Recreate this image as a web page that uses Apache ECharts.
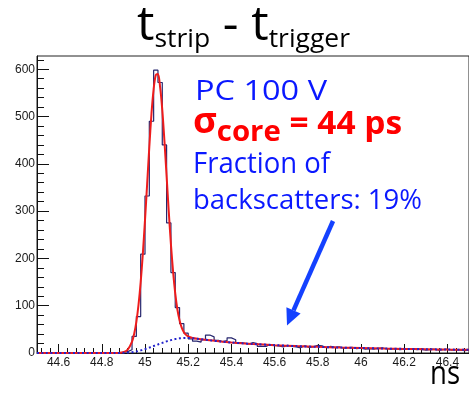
<!DOCTYPE html>
<html>
<head>
<meta charset="utf-8">
<script src="https://cdn.jsdelivr.net/npm/echarts@6/dist/echarts.min.js"></script>
<style>
  html, body { margin: 0; padding: 0; background: #fff; }
  #chart { width: 469px; height: 394px; }
</style>
</head>
<body>
<div id="chart"></div>
<script>
// Histogram of strip time minus trigger time (ns), 0.02 ns bins starting at 44.5
const binStart = 44.5;
const binWidth = 0.02;
const counts = [
  0, 0, 0, 0, 0, 0, 0, 0, 0, 0,
  0, 0, 0, 0, 0, 0, 0, 0, 0, 2,
  3, 7, 35, 77, 209, 332, 490, 598, 572, 440,
  275, 170, 96, 62, 42, 30, 25, 23, 28, 38,
  34, 27, 24, 26, 32, 28, 22, 21, 19, 22,
  20, 14, 14, 18, 16, 15, 13, 16, 14, 13,
  11, 15, 12, 13, 16, 15, 11, 14, 12, 13,
  10, 11, 12, 9, 10, 8, 9, 8, 10, 11,
  9, 8, 9, 7, 8, 9, 8, 7, 8, 6,
  7, 8, 6, 7, 8, 6, 7, 6, 5, 6
];

// Fit curves sampled along the time axis
const fitX = [
  44.50, 44.80, 44.86, 44.88, 44.90, 44.92, 44.94, 44.95, 44.96, 44.97,
  44.98, 44.99, 45.00, 45.01, 45.02, 45.03, 45.04, 45.05, 45.06, 45.07,
  45.08, 45.09, 45.10, 45.11, 45.12, 45.13, 45.14, 45.15, 45.16, 45.17,
  45.18, 45.19, 45.20, 45.22, 45.25, 45.30, 45.35, 45.40, 45.45, 45.50,
  45.60, 45.70, 45.80, 45.90, 46.00, 46.10, 46.20, 46.30, 46.40, 46.50
];
// core + backscatter
const fitTotal = [
  0, 0, 0, 0.4, 1.9, 7.3, 24, 41, 66, 102,
  150, 210, 281, 358, 436, 506, 558, 588, 590, 562,
  514, 448, 374, 299, 230, 172, 126, 92, 69, 53.5,
  44, 38.3, 35, 31.9, 29.8, 26.8, 24.3, 22.2, 20.5, 19,
  16.6, 14.6, 13, 11.6, 10.5, 9.5, 8.7, 8, 7.3, 6.7
];
// backscatter component alone
const fitBackscatter = [
  0, 0, 0, 0.1, 0.3, 0.8, 1.8, 2.5, 3.3, 4.3,
  5.5, 6.8, 8.2, 9.7, 11.3, 13, 14.7, 16.4, 18.1, 19.8,
  21.4, 23, 24.5, 25.9, 27.2, 28.4, 29.4, 30.3, 31, 31.5,
  31.8, 31.9, 31.8, 31.2, 29.8, 26.8, 24.3, 22.2, 20.5, 19,
  16.6, 14.6, 13, 11.6, 10.5, 9.5, 8.7, 8, 7.3, 6.7
];

const xRange = [44.5, 46.5];
const yRange = [0, 628];
const xMajorTicks = [44.6, 44.8, 45, 45.2, 45.4, 45.6, 45.8, 46, 46.2, 46.4];
const yMajorTicks = [0, 100, 200, 300, 400, 500, 600];

// minor ticks: 5 per major x division, 5 per major y division
const xMinorTicks = [];
for (let i = 1; i * 0.04 + 44.48 < xRange[1]; i++) {
  const v = +(44.48 + i * 0.04).toFixed(2);
  if (!xMajorTicks.some(m => Math.abs(m - v) < 1e-6)) xMinorTicks.push(v);
}
const yMinorTicks = [];
for (let v = 20; v < yRange[1]; v += 20) {
  if (v % 100 !== 0) yMinorTicks.push(v);
}

// step outline built from bin edges
const histData = counts.map((c, i) => [+(binStart + i * binWidth).toFixed(2), c]);
histData.push([+(binStart + counts.length * binWidth).toFixed(2), counts[counts.length - 1]]);

const totalData = fitX.map((x, i) => [x, fitTotal[i]]);
const bsData = fitX.map((x, i) => [x, fitBackscatter[i]]);

// text layout helper: runs of text on one baseline, stretched to a given span
const mctx = document.createElement('canvas').getContext('2d');
function measure(str, font) { mctx.font = font; return mctx.measureText(str).width; }
function textLine(runs, left, right, baseline, color, family) {
  const fonts = runs.map(r => `${r.weight || 'normal'} ${r.size}px ${family}`);
  const natural = runs.reduce((s, r, i) => s + measure(r.t, fonts[i]), 0);
  const k = (right - left) / natural;
  let cx = left;
  return runs.map((r, i) => {
    const el = {
      type: 'text',
      x: cx,
      y: baseline + (r.dy || 0) - r.size * 0.388,
      scaleX: k,
      style: {
        text: r.t, font: fonts[i], fill: color,
        align: 'left', verticalAlign: 'middle'
      }
    };
    cx += measure(r.t, fonts[i]) * k;
    return el;
  });
}

const FAM = '"Open Sans"';
const BLUE = '#0a18ff';
const RED = '#ff0000';

const graphics = [].concat(
  textLine([
    { t: 't', size: 48 },
    { t: 'strip', size: 26, dy: 5 },
    { t: ' - t', size: 48 },
    { t: 'trigger', size: 26, dy: 5 }
  ], 137, 350, 45, '#000', FAM),
  textLine([{ t: 'PC 100 V', size: 27 }], 195, 327, 103, BLUE, FAM),
  textLine([
    { t: 'σ', size: 36, weight: 'bold' },
    { t: 'core', size: 29, weight: 'bold', dy: 7 },
    { t: ' = 44 ps', size: 33, weight: 'bold' }
  ], 193, 402, 137, RED, FAM),
  textLine([{ t: 'Fraction of', size: 29 }], 193, 330, 175.5, BLUE, FAM),
  textLine([{ t: 'backscatters: 19%', size: 28 }], 193, 422, 212, BLUE, FAM),
  textLine([{ t: 'ns', size: 33 }], 430, 460, 387.5, '#000', FAM),
  [
    {
      type: 'line',
      shape: { x1: 333, y1: 221, x2: 293.5, y2: 310.4 },
      style: { stroke: '#1441ff', lineWidth: 4.5 }
    },
    {
      type: 'polygon',
      shape: { points: [[287, 325.5], [300.6, 313.4], [286.4, 307.2]] },
      style: { fill: '#1441ff' }
    }
  ]
);

const chart = echarts.init(document.getElementById('chart'), null, { renderer: 'canvas' });

const labelFont = { fontFamily: '"Liberation Sans", Arial, sans-serif', fontSize: 12, color: '#1a1a1a' };

chart.setOption({
  animation: false,
  backgroundColor: '#fff',
  grid: {
    left: 37, right: -6, top: 56, bottom: 41,
    show: true, borderColor: '#222', borderWidth: 1, backgroundColor: 'transparent'
  },
  xAxis: [
    {
      type: 'value', min: xRange[0], max: xRange[1], position: 'bottom',
      axisLine: { show: true, onZero: false, lineStyle: { color: '#111', width: 1 } },
      axisTick: { show: true, inside: true, length: 9, customValues: xMajorTicks, lineStyle: { color: '#111' } },
      axisLabel: {
        show: true, customValues: xMajorTicks, margin: 4, ...labelFont,
        formatter: v => String(+(+v).toFixed(1))
      },
      splitLine: { show: false }
    },
    {
      type: 'value', min: xRange[0], max: xRange[1], position: 'bottom',
      axisLine: { show: false, onZero: false },
      axisTick: { show: true, inside: true, length: 5, customValues: xMinorTicks, lineStyle: { color: '#111' } },
      axisLabel: { show: false },
      splitLine: { show: false }
    }
  ],
  yAxis: [
    {
      type: 'value', min: yRange[0], max: yRange[1], position: 'left',
      axisLine: { show: true, onZero: false, lineStyle: { color: '#111', width: 1 } },
      axisTick: { show: true, inside: true, length: 12, customValues: yMajorTicks, lineStyle: { color: '#111' } },
      axisLabel: { show: true, customValues: yMajorTicks, margin: 2, ...labelFont },
      splitLine: { show: false }
    },
    {
      type: 'value', min: yRange[0], max: yRange[1], position: 'left',
      axisLine: { show: false, onZero: false },
      axisTick: { show: true, inside: true, length: 7, customValues: yMinorTicks, lineStyle: { color: '#111' } },
      axisLabel: { show: false },
      splitLine: { show: false }
    }
  ],
  series: [
    {
      name: 'data', type: 'line', step: 'end', data: histData,
      xAxisIndex: 0, yAxisIndex: 0, showSymbol: false, z: 2,
      lineStyle: { color: '#26266e', width: 1.2 }
    },
    {
      name: 'fit', type: 'line', data: totalData, smooth: 0.3,
      xAxisIndex: 0, yAxisIndex: 0, showSymbol: false, z: 3,
      lineStyle: { color: '#ee1c1c', width: 2 }
    },
    {
      name: 'backscatter', type: 'line', data: bsData, smooth: 0.3,
      xAxisIndex: 0, yAxisIndex: 0, showSymbol: false, z: 4,
      lineStyle: { color: '#2222cc', width: 2, type: [2, 2.5] }
    }
  ],
  graphic: graphics
});
</script>
</body>
</html>
